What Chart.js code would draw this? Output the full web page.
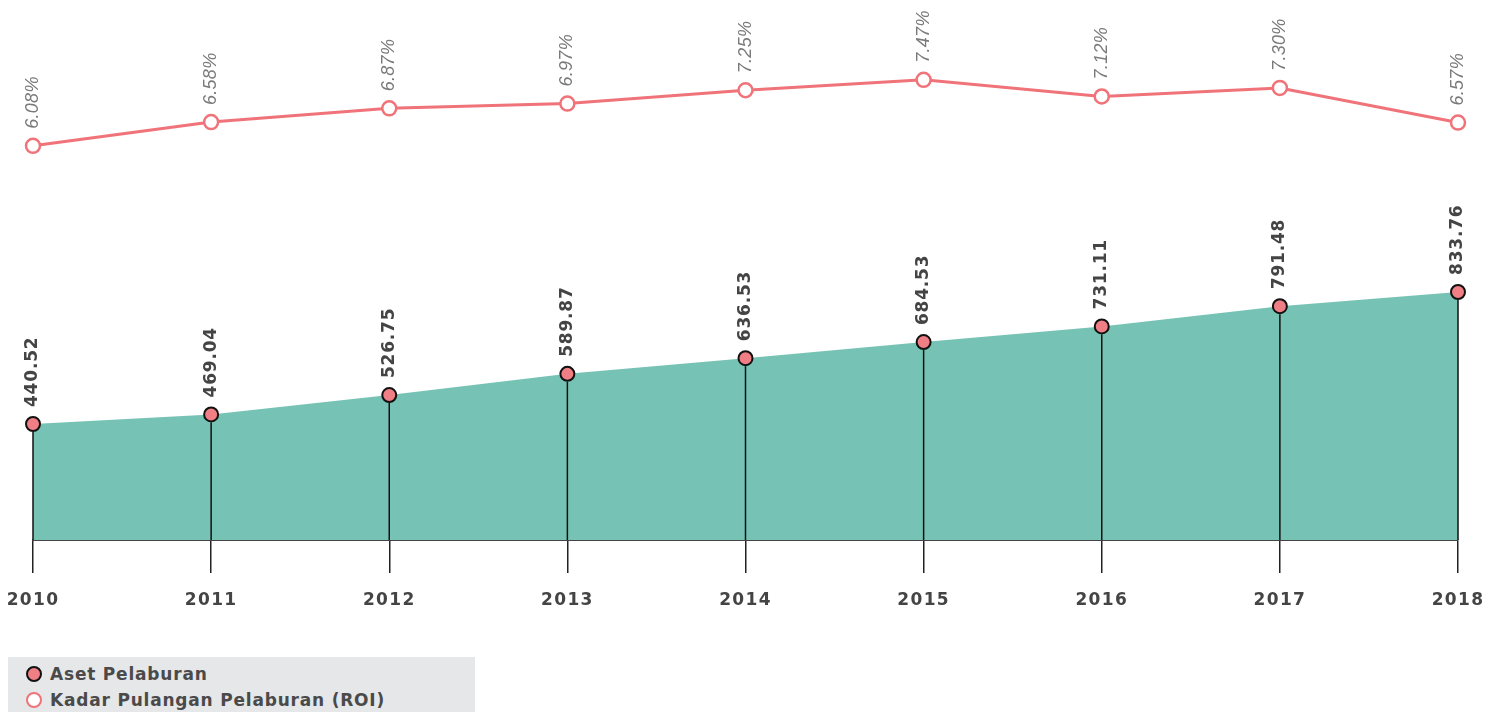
<!DOCTYPE html>
<html>
<head>
<meta charset="utf-8">
<script src="https://cdn.jsdelivr.net/npm/chart.js@4.4.1/dist/chart.umd.min.js"></script>
<style>
  html, body { margin: 0; padding: 0; background: #fff; }
  #wrap { position: relative; width: 1500px; height: 712px; }
  #legend {
    position: absolute; left: 8px; top: 657px; width: 467px; height: 55px;
    background: #e6e7e8; font: bold 17px "DejaVu Sans", sans-serif;
    color: #4a4a4a; letter-spacing: 0.8px;
  }
  .item { position: absolute; left: 18px; height: 20px; line-height: 20px; }
  .item span.dot {
    position: absolute; left: 0; top: 2px; width: 12px; height: 12px;
    border-radius: 50%; box-sizing: content-box;
  }
  .item span.txt { position: absolute; left: 24px; white-space: nowrap; }
</style>
</head>
<body>
<div id="wrap">
  <canvas id="myChart"></canvas>
  <div id="legend">
    <div class="item" style="top:7px"><span class="dot" style="background:#f07f85;border:2.5px solid #111"></span><span class="txt">Aset Pelaburan</span></div>
    <div class="item" style="top:33px"><span class="dot" style="background:#fff;border:2.5px solid #ef7379"></span><span class="txt">Kadar Pulangan Pelaburan (ROI)</span></div>
  </div>
</div>
<script>
const ctx = document.getElementById('myChart');

const tahun = ['2010', '2011', '2012', '2013', '2014', '2015', '2016', '2017', '2018'];
const aset = [440.52, 469.04, 526.75, 589.87, 636.53, 684.53, 731.11, 791.48, 833.76];
const roi = [6.08, 6.58, 6.87, 6.97, 7.25, 7.47, 7.12, 7.30, 6.57];

// tracking for all canvas text
const spacing = {
  id: 'spacing',
  beforeDraw(chart) { chart.ctx.letterSpacing = '1.3px'; }
};

// vertical drop lines from each asset point to the baseline
const dropLines = {
  id: 'dropLines',
  afterDatasetsDraw(chart) {
    const c = chart.ctx;
    const bottom = chart.chartArea.bottom;
    c.save();
    c.strokeStyle = '#111';
    c.lineWidth = 1.5;
    chart.getDatasetMeta(0).data.forEach(p => {
      c.beginPath();
      c.moveTo(p.x, p.y + 8);
      c.lineTo(p.x, bottom);
      c.stroke();
    });
    c.restore();
  }
};

// rotated value labels above points
const valueLabels = {
  id: 'valueLabels',
  afterDatasetsDraw(chart) {
    const c = chart.ctx;
    c.save();
    chart.data.datasets.forEach((ds, i) => {
      chart.getDatasetMeta(i).data.forEach((p, j) => {
        c.save();
        c.translate(p.x, p.y - 17);
        c.rotate(-Math.PI / 2);
        c.textAlign = 'left';
        c.textBaseline = 'middle';
        if (i === 0) {
          c.font = 'bold 17px "DejaVu Sans"';
          c.fillStyle = '#444';
          c.letterSpacing = '0.8px';
          c.fillText(ds.data[j].toFixed(2), 0, 0);
        } else {
          c.font = 'italic 18px "Liberation Sans"';
          c.fillStyle = '#7a7a7a';
          c.letterSpacing = '0.3px';
          c.fillText(ds.data[j].toFixed(2) + '%', 0, 0);
        }
        c.restore();
      });
    });
    c.restore();
  }
};

new Chart(ctx, {
  type: 'line',
  data: {
    labels: tahun,
    datasets: [
      {
        label: 'Aset Pelaburan',
        data: aset,
        yAxisID: 'y',
        fill: 'start',
        backgroundColor: '#76c3b5',
        borderWidth: 0,
        borderColor: 'rgba(0,0,0,0)',
        tension: 0,
        pointRadius: 7,
        pointBackgroundColor: '#f07f85',
        pointBorderColor: '#111',
        pointBorderWidth: 2,
        clip: false,
        order: 2
      },
      {
        label: 'Kadar Pulangan Pelaburan (ROI)',
        data: roi,
        yAxisID: 'y2',
        fill: false,
        borderColor: '#ef7379',
        borderWidth: 3,
        tension: 0,
        pointRadius: 7,
        pointBackgroundColor: '#fff',
        pointBorderColor: '#ef7379',
        pointBorderWidth: 2.5,
        clip: false,
        order: 1
      }
    ]
  },
  options: {
    responsive: true,
    maintainAspectRatio: false,
    animation: false,
    layout: { padding: { left: 33, right: 42, top: 20, bottom: 0 } },
    scales: {
      x: {
        offset: false,
        grid: {
          drawOnChartArea: false,
          drawTicks: true,
          tickLength: 33,
          color: '#222',
          lineWidth: 1.5
        },
        border: { display: true, color: '#444', width: 2 },
        ticks: {
          color: '#444',
          font: { family: 'DejaVu Sans', size: 17, weight: 'bold' },
          padding: 17,
          maxRotation: 0
        },
        afterFit(s) {
          s.height = 172;
          s.paddingLeft = 0;
          s.paddingRight = 0;
        }
      },
      y: { display: false, min: 95, max: 1644 },
      y2: { display: false, min: -2.22, max: 8.73 }
    },
    plugins: {
      legend: { display: false },
      tooltip: { enabled: false }
    }
  },
  plugins: [spacing, dropLines, valueLabels]
});
</script>
</body>
</html>
